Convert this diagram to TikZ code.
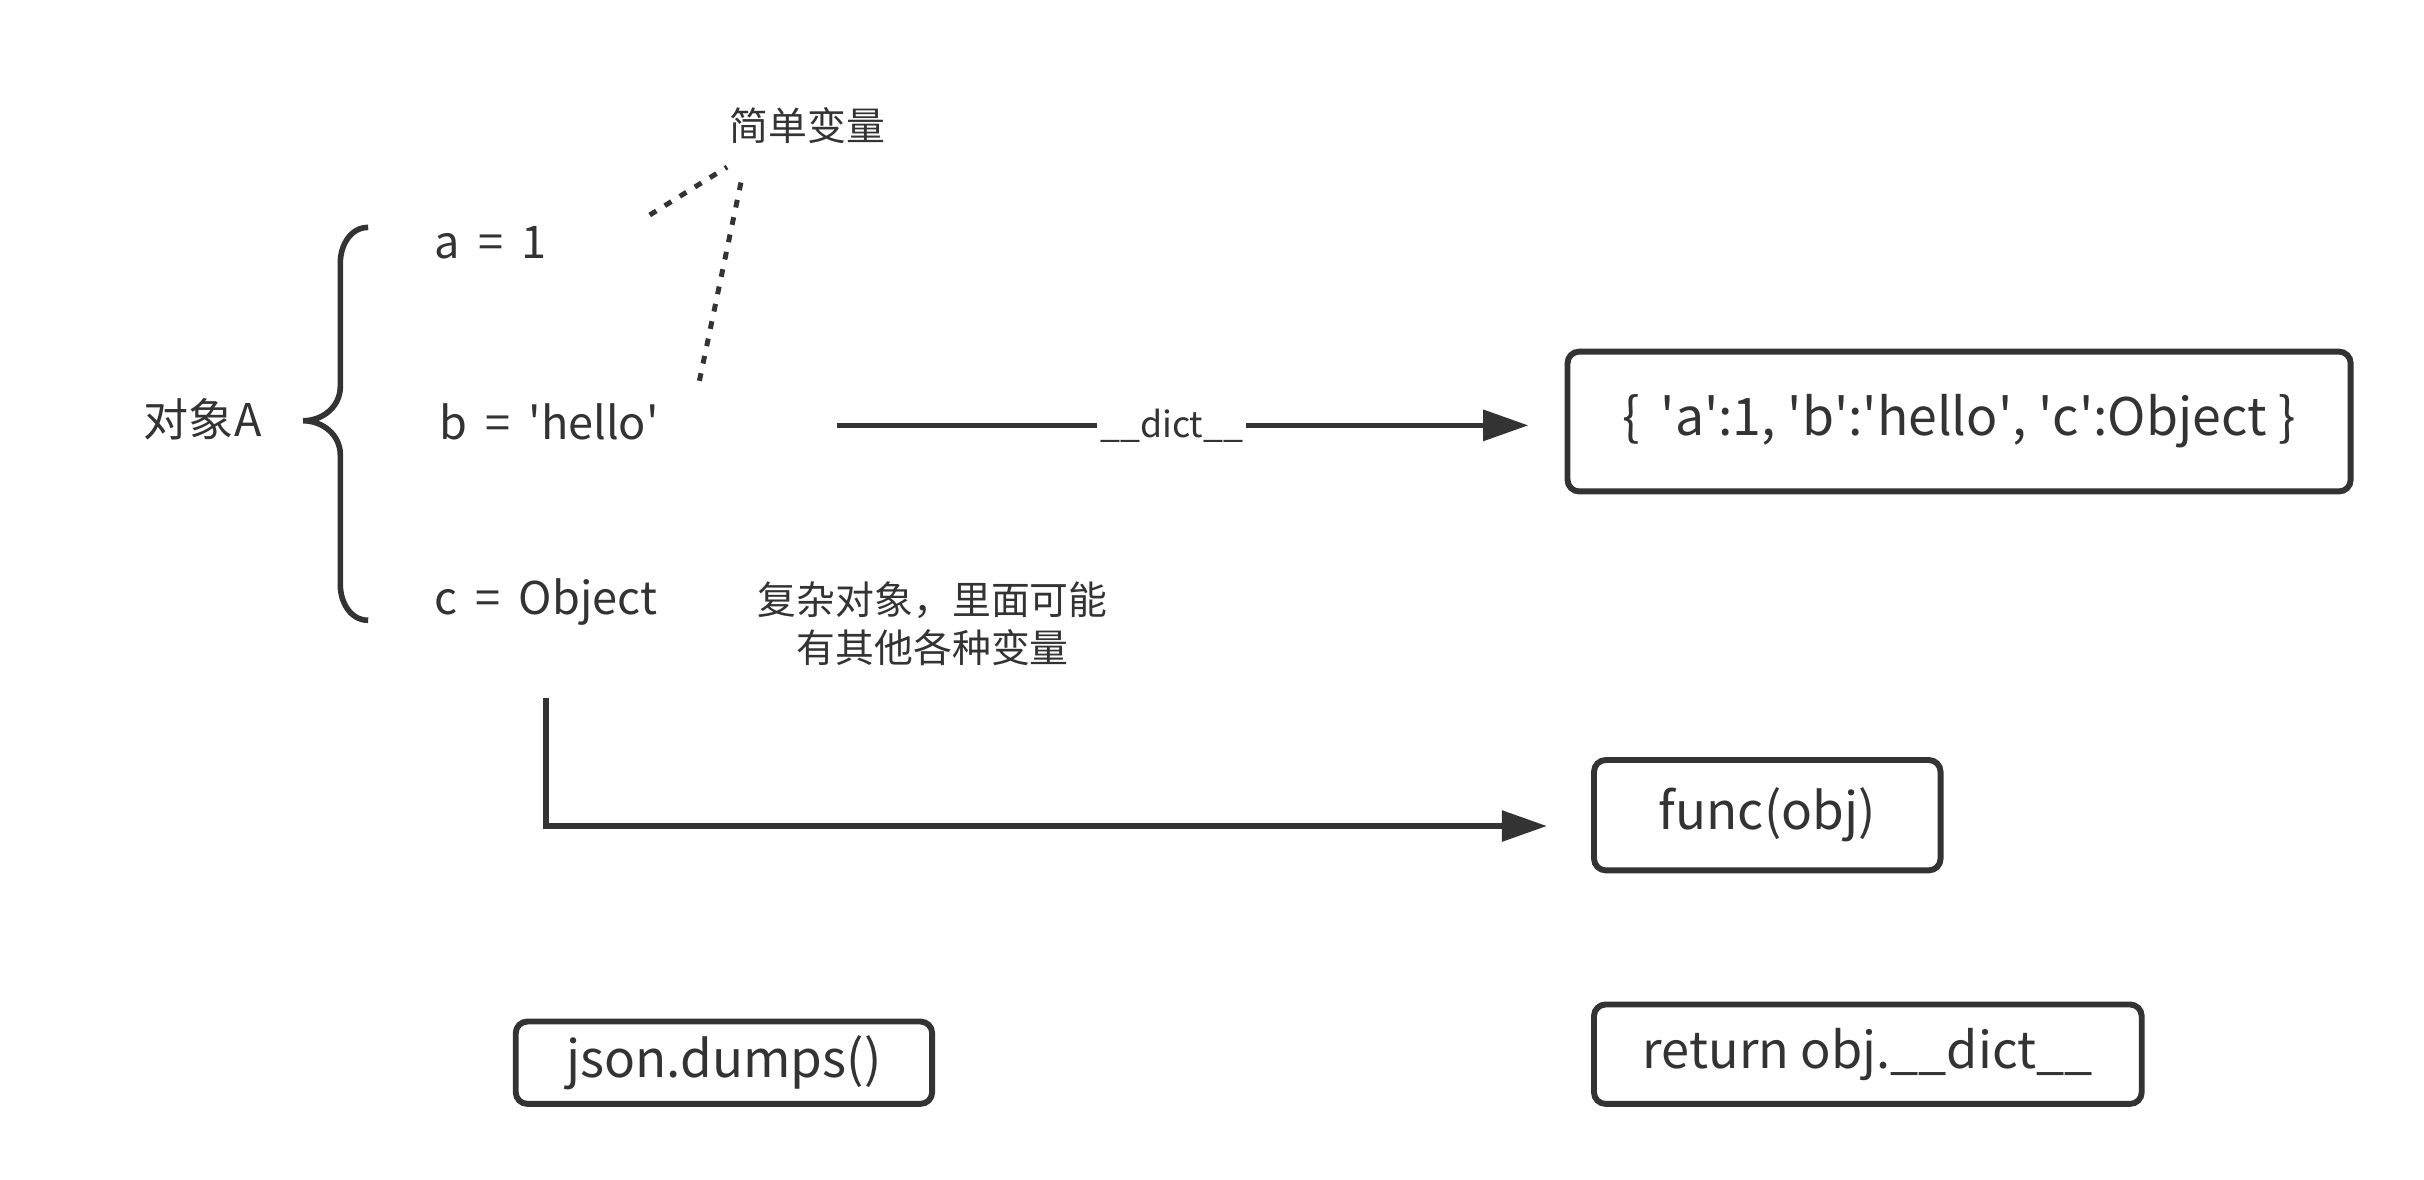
\documentclass[tikz,border=0pt]{standalone}
\usepackage{fontspec}
\setmainfont{Noto Sans CJK SC}
\usetikzlibrary{arrows.meta}
\definecolor{ink}{HTML}{333333}
\newcommand{\myq}{\textquotesingle}
\newcommand{\mysp}{\hspace{0.4em}}
\begin{document}
\begin{tikzpicture}[x=0.9955pt,y=-0.9955pt,
  every node/.style={text=ink, inner sep=0pt},
  lbl/.style={font=\fontsize{29}{33}\selectfont, anchor=west},
  note/.style={font=\fontsize{25}{31}\selectfont, align=center},
  box/.style={draw=ink, line width=3.8pt, rounded corners=7.5pt, font=\fontsize{33}{37}\selectfont},
  conn/.style={draw=ink, line width=3.3pt, -{Triangle[length=29pt,width=19.5pt]}},
  dots/.style={draw=ink, line width=3.2pt, dash pattern=on 5pt off 6.4pt}
]
\useasboundingbox (0,0) rectangle (1567.05,762.43);
\fill[white] (0,0) rectangle (1567.05,762.43);

% texts
\node[font=\fontsize{29}{33}\selectfont] (objA) at (131,271) {对象A};
\node[lbl] (a) at (281,157) {a\mysp=\mysp1};
\node[lbl] (b) at (284,273) {b\mysp=\mysp\myq hello\myq};
\node[lbl] (c) at (281,389) {c\mysp=\mysp Object};
\node[note] (simple) at (522,81) {简单变量};
\node[note] (complex) at (603,403) {复杂对象，里面可能\\有其他各种变量};

% brace
\draw[ink, line width=3.6pt] (238,147) to[out=180,in=90] (220,170) -- (220,250)
  to[out=-90,in=0] (196,272) to[out=0,in=90] (220,294) -- (220,378)
  to[out=-90,in=180] (238,401);

% dotted pointers
\coordinate (d1s) at (420,139); \coordinate (d1e) at (470,108);
\coordinate (d2s) at (479,118); \coordinate (d2e) at (452,247);
\draw[dots] (d1s) -- (d1e);
\draw[dots] (d2s) -- (d2e);

% boxes
\node[box, font=\fontsize{33.3}{37}\selectfont, minimum width=504pt, minimum height=90pt] (dict) at (1266.5,272.5) {\{\mysp\myq a\myq:1, \myq b\myq:\myq hello\myq, \myq c\myq:Object \}};
\node[box, minimum width=223pt, minimum height=71pt] (func) at (1142.5,527) {func(obj)};
\node[box, minimum width=268pt, minimum height=53pt] (json) at (468,687) {json.dumps()};
\node[box, font=\fontsize{32.5}{36}\selectfont, minimum width=352.5pt, minimum height=64pt] (ret) at (1207.5,681.5) {return obj.\_\_dict\_\_};

% arrows
\coordinate (s1) at (541,275);
\coordinate (e1) at (988,275);
\draw[conn] (s1) -- (e1) node[midway, fill=white, inner xsep=2pt, font=\fontsize{23}{27}\selectfont, xshift=-7pt] {\_\_dict\_\_};
\coordinate (s2) at (353,451);
\coordinate (k2) at (353,534);
\coordinate (e2) at (1000,534);
\draw[conn] (s2) -- (k2) -- (e2);
\end{tikzpicture}
\end{document}
